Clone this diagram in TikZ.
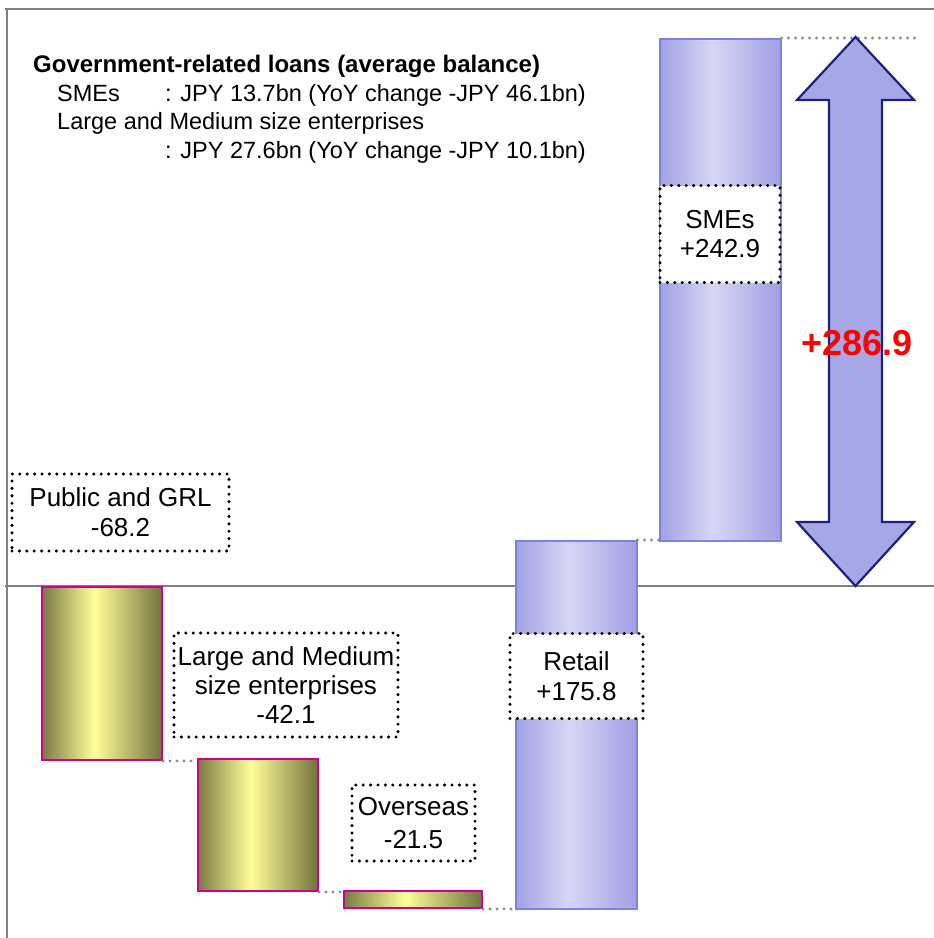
\documentclass[tikz,border=0pt]{standalone}
\usepackage{fontspec}
\setmainfont{Liberation Sans}
\definecolor{olivedark}{RGB}{118,118,64}
\definecolor{oliveyellow}{RGB}{255,255,153}
\definecolor{barpink}{RGB}{204,0,153}
\definecolor{blueside}{RGB}{160,160,230}
\definecolor{bluemid}{RGB}{214,214,244}
\definecolor{bluedge}{RGB}{128,128,224}
\definecolor{arrowfill}{RGB}{166,168,230}
\definecolor{arrowline}{RGB}{31,31,128}
\definecolor{dotgray}{RGB}{140,140,140}
\definecolor{framegray}{RGB}{128,128,128}
% gradient fill made of thin vertical strips: x0, y0, width, height, edge colour, middle colour
\newcommand\gradstrips[6]{%
  \foreach \i in {0,...,59}{%
    \pgfmathsetmacro\pp{(\i+0.5)/60}%
    \pgfmathsetmacro\mm{\pp<0.45 ? 100*\pp/0.45 : 100*(1-\pp)/0.55}%
    \pgfmathsetmacro\xa{#1+#3*\i/60}%
    \pgfmathsetmacro\xb{#1+#3*(\i+1)/60+0.4}%
    \fill[#6!\mm!#5] (\xa,#2) rectangle (\xb,#2+#4);%
  }%
}
\begin{document}
\begin{tikzpicture}[x=1pt,y=-1pt,
  olivebar/.style={draw=barpink, line width=2pt, inner sep=0pt, anchor=north west},
  bluebar/.style={draw=bluedge, line width=1.5pt, inner sep=0pt, anchor=north west},
  lbl/.style={draw=black, fill=white, line width=3.4pt, dash pattern=on 0pt off 7.4pt, line cap=round, align=center, inner sep=0pt, font=\fontsize{26}{30}\selectfont},
  conn/.style={draw=dotgray, line width=3.3pt, dash pattern=on 0pt off 7pt, line cap=round},
  frame/.style={draw=framegray, line width=1.6pt},
  bigarrow/.style={draw=arrowline, fill=arrowfill, line width=2.2pt, line join=miter},
  info/.style={anchor=base west, inner sep=0pt, font=\fontsize{23.5}{28}\selectfont},
]
\useasboundingbox (0,0) rectangle (934,938);
% frame and axis
\coordinate (ftl) at (5,9);
\coordinate (ftr) at (934,9);
\coordinate (fl) at (7,9);
\coordinate (fb) at (7,938);
\coordinate (axl) at (5,586);
\coordinate (axr) at (934,586);
\draw[frame] (ftl) -- (ftr);
\draw[frame] (fl) -- (fb);
\draw[frame] (axl) -- (axr);

% bar fills
\gradstrips{41}{586}{120}{173}{olivedark}{oliveyellow}
\gradstrips{197}{758}{120}{132}{olivedark}{oliveyellow}
\gradstrips{343}{890}{138}{17}{olivedark}{oliveyellow}
\gradstrips{515}{540}{121}{368}{blueside}{bluemid}
\gradstrips{659}{38}{121}{502}{blueside}{bluemid}
% bars
\node[olivebar, minimum width=120pt, minimum height=173pt] (pub) at (41,586) {};
\node[olivebar, minimum width=120pt, minimum height=132pt] (lm) at (197,758) {};
\node[olivebar, minimum width=138pt, minimum height=17pt] (ov) at (343,890) {};
\node[bluebar, minimum width=121pt, minimum height=368pt] (ret) at (515,540) {};
\node[bluebar, minimum width=121pt, minimum height=502pt] (sme) at (659,38) {};

% connectors
\coordinate (smeend) at (920,38);
\draw[conn] (pub.south east) -- (pub.south east -| lm.west);
\draw[conn] (lm.south east) -- (lm.south east -| ov.west);
\draw[conn] (ov.south east) -- (ov.south east -| ret.west);
\draw[conn] (ret.north east) -- (ret.north east -| sme.west);
\draw[conn] (sme.north east) -- (smeend);

% big double arrow
\draw[bigarrow] (855.5,37) -- (914,100) -- (882,100) -- (882,522) -- (914,522) -- (855.5,586)
  -- (797,522) -- (829,522) -- (829,100) -- (797,100) -- cycle;
\node[text=red, font=\bfseries\fontsize{36}{40}\selectfont, inner sep=0pt] (total) at (857,343) {+286.9};

% labels
\node[lbl, minimum width=217pt, minimum height=77pt] (lpub) at (120.5,512.5) {Public and GRL\\-68.2};
\node[lbl, minimum width=224pt, minimum height=104pt, font=\fontsize{26}{29}\selectfont] (llm) at (286,685) {Large and Medium\\size enterprises\\-42.1};
\node[lbl, minimum width=123pt, minimum height=76pt, font=\fontsize{26}{33}\selectfont] (lov) at (413.5,823) {Overseas\\-21.5};
\node[lbl, minimum width=133pt, minimum height=85pt] (lret) at (576.5,676) {Retail\\+175.8};
\node[lbl, minimum width=120pt, minimum height=97pt, font=\fontsize{26}{29}\selectfont] (lsme) at (720,234) {SMEs\\+242.9};

% info text
\node[info, font=\bfseries\fontsize{24}{28}\selectfont] (title) at (33,72) {Government-related loans (average balance)};
\node[info] (s1) at (57,101) {SMEs};
\node[info] (s2) at (165,101) {: JPY 13.7bn (YoY change -JPY 46.1bn)};
\node[info] (s3) at (57,129) {Large and Medium size enterprises};
\node[info] (s4) at (165,158) {: JPY 27.6bn (YoY change -JPY 10.1bn)};
\end{tikzpicture}
\end{document}
